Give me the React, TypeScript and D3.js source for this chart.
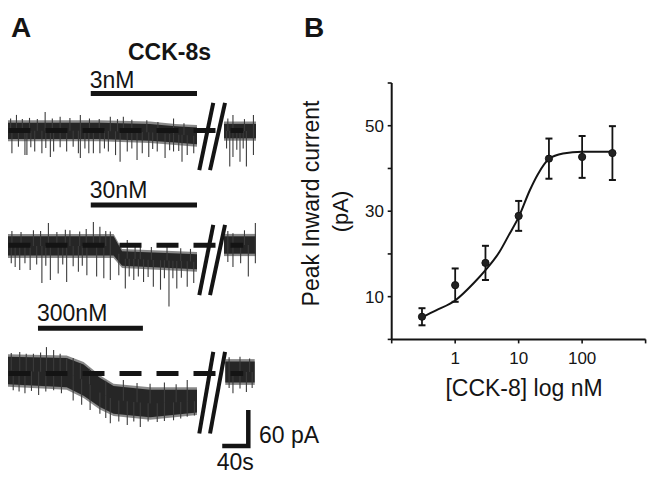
import React from 'react'
import * as d3 from 'd3'

type Env = [number, number, number] // time (s), upper edge (pA), lower edge (pA)
type Spike = [number, number] // time (s), tip (pA)

const FONT = "'Liberation Sans', Arial, Helvetica, sans-serif"
const INK = '#141414'
const TRACE = '#262626'

// ---- panel A: recordings ----
const concLabels = ['3nM', '30nM', '300nM']
const drugOn = [127, 127, 46] // s
const drugOff = [290, 290, 207]

const env3: Env[] = [[0, 13, -14], [140, 13, -14], [218, 11, -17], [257, 7, -20], [290, 5, -23]]
const env3Post: Env[] = [[330, 11, -13], [380, 11, -13]]
const down3: Spike[] = [
  [6, -38], [16, -27], [26, -41], [29, -41], [35, -28], [41, -35], [52, -38], [58, -29], [65, -44], [70, -35],
  [80, -28], [90, -35], [100, -27], [108, -38], [111, -46], [118, -30], [124, -38], [131, -38], [141, -38],
  [148, -30], [154, -35], [165, -41], [172, -52], [183, -35], [190, -30], [198, -49], [206, -38], [216, -44],
  [222, -31], [229, -35], [241, -46], [248, -33], [254, -35], [262, -34], [267, -52], [275, -41], [285, -38],
  [334, -30], [339, -60], [344, -44], [350, -32], [355, -52], [360, -30], [365, -60], [376, -41],
]
const up3: Spike[] = [
  [4, 20], [13, 26], [22, 19], [33, 21], [45, 19], [57, 31], [68, 20], [80, 23], [95, 21], [111, 26],
  [125, 20], [140, 19], [157, 23], [168, 19], [177, 23], [190, 18], [213, 17], [230, 14], [254, 20],
  [270, 12], [336, 20], [344, 26], [362, 19], [376, 26],
]

const env30: Env[] = [[0, 15, -17], [162, 15, -17], [175, -10, -34], [290, -15, -40]]
const env30Post: Env[] = [[330, 15, -14], [380, 15, -14]]
const down30: Spike[] = [
  [5, -30], [11, -36], [18, -41], [26, -30], [34, -41], [44, -32], [52, -63], [58, -34], [65, -58], [77, -47],
  [84, -32], [90, -61], [100, -35], [108, -44], [114, -34], [121, -50], [136, -52], [147, -55], [157, -58],
  [170, -50], [180, -72], [186, -52], [193, -58], [200, -52], [208, -61], [215, -53], [223, -69], [234, -74],
  [240, -55], [247, -102], [253, -55], [259, -72], [266, -54], [275, -69], [285, -63],
  [336, -28], [344, -36], [356, -30], [368, -52], [379, -30],
]
const up30: Spike[] = [
  [6, 24], [20, 22], [39, 25], [50, 24], [62, 37], [75, 22], [88, 26], [95, 25], [110, 23], [120, 27],
  [131, 39], [141, 31], [150, 24], [157, 23], [183, 9], [195, 0], [203, 0], [220, -3], [244, -2], [265, -5],
  [280, -6], [336, 24], [344, 20], [362, 25], [379, 37],
]

const env300: Env[] = [
  [0, 28, -18], [90, 26, -23], [116, 15, -37], [141, -7, -56], [162, -21, -67], [218, -27, -73], [290, -27, -65],
]
const env300Post: Env[] = [[332, 20, -15], [378, 20, -15]]
const down300: Spike[] = [
  [8, -28], [17, -30], [26, -33], [36, -29], [47, -36], [58, -30], [70, -28], [82, -33], [100, -45],
  [113, -52], [126, -61], [141, -67], [150, -74], [157, -83], [170, -80], [183, -86], [193, -80], [203, -89],
  [215, -80], [229, -81], [240, -79], [254, -78], [265, -75], [275, -72], [286, -70],
  [338, -24], [344, -33], [355, -25], [365, -31], [374, -24],
]
const up300: Spike[] = [
  [5, 34], [18, 36], [28, 33], [39, 33], [50, 35], [59, 44], [70, 39], [80, 33], [90, 25], [100, 26],
  [111, 17], [125, 8], [150, -12], [177, -11], [198, -16], [218, -17], [240, -15], [258, -18], [275, -11],
  [338, 27], [355, 28], [370, 25],
]

const envs = [env3, env30, env300]
const envsPost = [env3Post, env30Post, env300Post]
const downs = [down3, down30, down300]
const ups = [up3, up30, up300]
const breakLow = [-66, -83, -100] // pA
const breakHigh = [46, 34, 36]

// ---- panel B: dose-response ----
const doseNM = [0.3, 1, 3, 10, 30, 100, 300]
const peakPA = [5.3, 12.7, 17.9, 28.9, 42.3, 42.7, 43.6]
const semPA = [2.0, 3.9, 4.0, 3.5, 4.7, 4.9, 6.3]
const fitNM = [0.3, 0.5, 1, 2, 3, 5, 7, 10, 15, 20, 30, 50, 100, 300]
const fitPA = [5.2, 6.8, 9.1, 13.3, 16.2, 20.5, 24.4, 28.6, 34.9, 38.6, 42.2, 43.5, 43.9, 43.9]
const yTicks = [0, 10, 20, 30, 40, 50, 60]
const yLabels = [10, 30, 50]
const xTicks = [0.1, 1, 10, 100, 1000]
const xLabels = [1, 10, 100]

const baselines = [130.5, 245.3, 373.5]
const barY = [93.5, 205, 328.3]
const labelY = [87.5, 198, 320.5]

// time axis with a gap between the drug segment and the wash-out segment
const xT = d3.scaleLinear().domain([0, 290, 330, 380]).range([8, 197, 224, 256])

function Trace({ i }: { i: number }) {
  const base = baselines[i]
  const yS = d3.scaleLinear().domain([0, 60]).range([base, base - 36])
  const area = (pad: number) =>
    d3
      .area<Env>()
      .x((d) => xT(d[0]))
      .y0((d) => yS(d[2] - pad))
      .y1((d) => yS(d[1] + pad))
  const pre = envs[i]
  const post = envsPost[i]
  const mid = (e: Env[]) =>
    d3.scaleLinear().domain(e.map((d) => d[0])).range(e.map((d) => (d[1] + d[2]) / 2)).clamp(true)
  const midPre = mid(pre)
  const midPost = mid(post)
  const spikeBase = (t: number) => (t > 300 ? midPost(t) : midPre(t))
  const spikes = [...downs[i], ...ups[i]]
  const brk = [
    [293.4, 314.1],
    [309.3, 331.6],
  ]
  return (
    <g>
      {/* softer outer edge of the noise band */}
      <path d={area(4)(pre) || ''} fill="#3a3a3a" opacity={0.6} />
      <path d={area(4)(post) || ''} fill="#3a3a3a" opacity={0.6} />
      <path d={area(0)(pre) || ''} fill={TRACE} />
      <path d={area(0)(post) || ''} fill={TRACE} />
      {spikes.map(([t, v], k) => (
        <line
          key={k}
          x1={xT(t)}
          x2={xT(t)}
          y1={yS(spikeBase(t))}
          y2={yS(v)}
          stroke="#3c3c3c"
          strokeWidth={1.1}
        />
      ))}
      <line
        x1={xT(0) + 0.5}
        x2={xT(360)}
        y1={base}
        y2={base}
        stroke={INK}
        strokeWidth={5}
        strokeDasharray="22 15"
      />
      {brk.map(([t0, t1], k) => (
        <line
          key={k}
          x1={xT(t0)}
          y1={yS(breakLow[i])}
          x2={xT(t1)}
          y2={yS(breakHigh[i])}
          stroke={INK}
          strokeWidth={4}
        />
      ))}
      <line x1={xT(drugOn[i])} x2={xT(drugOff[i])} y1={barY[i]} y2={barY[i]} stroke={INK} strokeWidth={5} />
      <text x={xT(drugOn[i]) - 1} y={labelY[i]} fontSize={23} fill={INK}>
        {concLabels[i]}
      </text>
    </g>
  )
}

function PanelA() {
  const cornerX = 248.3
  const cornerY = 446
  const len40 = xT(40) - xT(0)
  const len60 = 36
  return (
    <g fontFamily={FONT}>
      <text x={11} y={37} fontSize={28} fontWeight="bold" fill={INK}>
        A
      </text>
      <text x={169.5} y={60} fontSize={23} fontWeight="bold" textAnchor="middle" fill={INK}>
        CCK-8s
      </text>
      {[0, 1, 2].map((i) => (
        <Trace key={i} i={i} />
      ))}
      <path
        d={`M${cornerX - len40},${cornerY} H${cornerX} V${cornerY - len60}`}
        fill="none"
        stroke={INK}
        strokeWidth={4.5}
      />
      <text x={259} y={443} fontSize={23} fill={INK}>
        60 pA
      </text>
      <text x={cornerX - len40 / 2} y={470} fontSize={23} textAnchor="middle" fill={INK}>
        40s
      </text>
    </g>
  )
}

function PanelB() {
  const x = d3.scaleLog().domain([0.1, 1000]).range([391.7, 645.6])
  const y = d3.scaleLinear().domain([0, 60]).range([339.4, 83])
  const line = d3
    .line<number>()
    .x((d) => x(d))
    .y((_, k) => y(fitPA[k]))
    .curve(d3.curveMonotoneX)
  const x0 = x.range()[0]
  const y0 = y.range()[0]
  return (
    <g fontFamily={FONT} fill={INK}>
      <text x={304} y={37} fontSize={28} fontWeight="bold">
        B
      </text>
      {/* axes */}
      <line x1={x0} x2={x0} y1={y(60)} y2={y0} stroke={INK} strokeWidth={2} />
      <line x1={x0} x2={x(1000)} y1={y0} y2={y0} stroke={INK} strokeWidth={2} />
      {yTicks.map((t) => (
        <line key={t} x1={x0 - 4} x2={x0} y1={y(t)} y2={y(t)} stroke={INK} strokeWidth={1.6} />
      ))}
      {yLabels.map((t) => (
        <text key={t} x={384} y={y(t) + 6} fontSize={17} textAnchor="end">
          {t}
        </text>
      ))}
      {xTicks.map((t) => (
        <line key={t} x1={x(t)} x2={x(t)} y1={y0} y2={y0 + 4} stroke={INK} strokeWidth={1.6} />
      ))}
      {xLabels.map((t) => (
        <text key={t} x={x(t)} y={363.5} fontSize={17} textAnchor="middle">
          {t}
        </text>
      ))}
      <text transform="translate(318.5,203.5) rotate(-90)" fontSize={23} textAnchor="middle">
        Peak Inward current
      </text>
      <text transform="translate(348,211.5) rotate(-90)" fontSize={22} textAnchor="middle">
        (pA)
      </text>
      <text x={524} y={396} fontSize={23} textAnchor="middle">
        [CCK-8] log nM
      </text>
      {/* fit */}
      <path d={line(fitNM) || ''} fill="none" stroke={INK} strokeWidth={2} />
      {/* data */}
      {doseNM.map((d, k) => {
        const cx = x(d)
        const top = y(peakPA[k] + semPA[k])
        const bot = y(peakPA[k] - semPA[k])
        return (
          <g key={d} stroke={INK}>
            <line x1={cx} x2={cx} y1={top} y2={bot} strokeWidth={1.8} />
            <line x1={cx - 3.5} x2={cx + 3.5} y1={top} y2={top} strokeWidth={2} />
            <line x1={cx - 3.5} x2={cx + 3.5} y1={bot} y2={bot} strokeWidth={2} />
            <circle cx={cx} cy={y(peakPA[k])} r={3.6} fill="#222" />
          </g>
        )
      })}
    </g>
  )
}

export default function App() {
  return (
    <svg
      width={654}
      height={479}
      viewBox="0 0 654 479"
      style={{ position: 'absolute', left: 0, top: 0, background: '#fff' }}
    >
      <rect width={654} height={479} fill="#fff" />
      <PanelA />
      <PanelB />
    </svg>
  )
}
